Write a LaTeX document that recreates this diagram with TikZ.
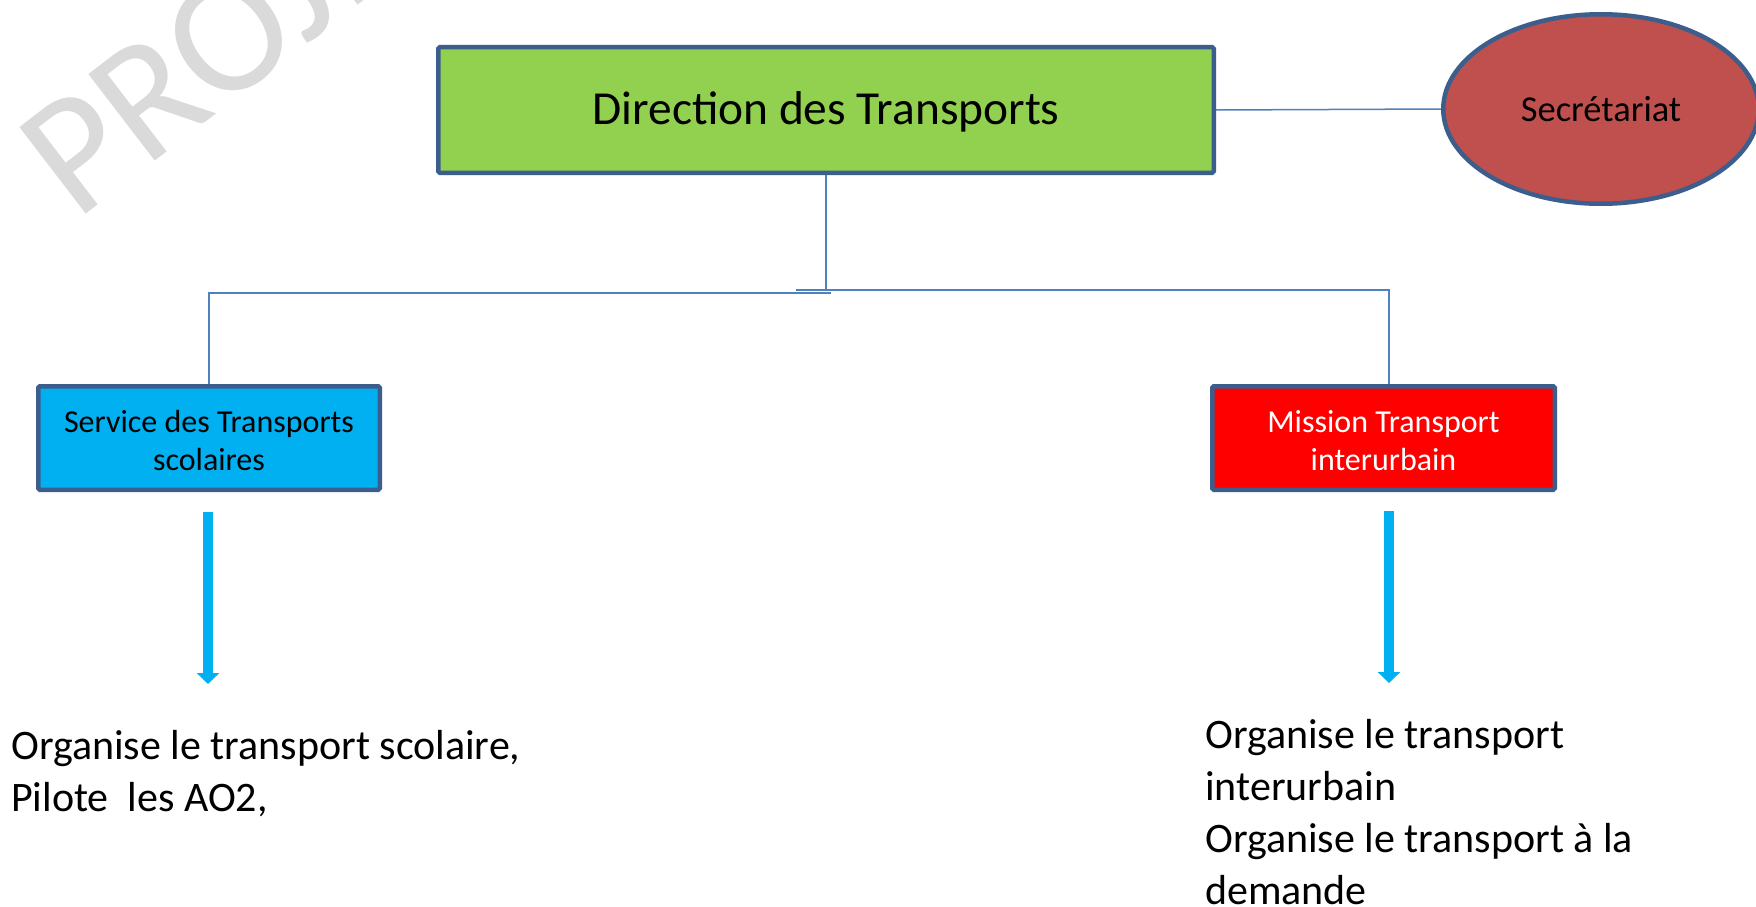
\documentclass[tikz,border=0pt]{standalone}
\usepackage{fontspec}
\setmainfont{Carlito}
\usetikzlibrary{shapes.geometric,arrows.meta}
\definecolor{bord}{HTML}{3B5E8C}
\definecolor{lin}{HTML}{4F81BD}
\definecolor{grn}{HTML}{92D050}
\definecolor{cy}{HTML}{00B0F0}
\definecolor{rd}{HTML}{FF0000}
\definecolor{sec}{HTML}{C0504D}
\definecolor{wm}{HTML}{DADADA}
\begin{document}
\begin{tikzpicture}[x=1pt,y=-1pt,
  box/.style={draw=bord, line width=4.5pt, rounded corners=1.5pt, inner sep=0pt, align=center},
  conn/.style={draw=lin, line width=1.5pt},
  bigarrow/.style={draw=cy, line width=9.5pt, -{Triangle[width=22pt,length=11pt]}},
  bodytext/.style={inner sep=0pt, align=left, anchor=base west, font=\fontsize{42}{52}\selectfont}]
\useasboundingbox (0,0) rectangle (1756,907);
\fill[white] (0,0) rectangle (1756,907);
% watermark
\node[rotate=37.5, anchor=base west, inner sep=0pt, text=wm, font=\fontsize{170}{170}\selectfont] (wmark) at (76,222) {PROJET};
% nodes
\node[box, fill=grn, minimum width=775.5pt, minimum height=125.5pt, font=\fontsize{47.4}{57}\selectfont] (main) at (826,110) {\rule{0pt}{37.5pt}Direction des Transports};
\node[ellipse, draw=bord, line width=4.5pt, fill=sec, inner sep=0pt, minimum width=315.5pt, minimum height=189.5pt, font=\fontsize{36.5}{44}\selectfont] (sec) at (1601,109) {Secrétariat};
\node[box, fill=cy, minimum width=341.5pt, minimum height=103.5pt, font=\fontsize{32}{38}\selectfont] (svc) at (209,438) {\rule{0pt}{27.5pt}Service des Transports\\scolaires};
\node[box, fill=rd, text=white, minimum width=342.5pt, minimum height=103.5pt, font=\fontsize{32}{38}\selectfont] (mis) at (1383.5,438) {\rule{0pt}{27.5pt}Mission Transport\\interurbain};
% connectors
\draw[conn] (main.east) -- (sec.west);
\coordinate (bar) at (826,291);
\coordinate (bl) at (831,293);
\coordinate (br) at (796,290);
\draw[conn] (main.south) -- (bar);
\draw[conn] (bl) -| (svc.north);
\draw[conn] (br) -| ([xshift=5.5pt]mis.north);
% arrows
\coordinate (a1s) at (208,512);
\coordinate (a1e) at (208,684);
\coordinate (a2s) at (1389,511);
\coordinate (a2e) at (1389,683);
\draw[bigarrow] (a1s) -- (a1e);
\draw[bigarrow] (a2s) -- (a2e);
% texts
\node[bodytext] (t1) at (11,811) {Organise le transport scolaire,\\Pilote\ \ les AO2,};
\node[bodytext] (t2) at (1205,904) {Organise le transport\\interurbain\\Organise le transport à la\\demande};
\end{tikzpicture}
\end{document}
